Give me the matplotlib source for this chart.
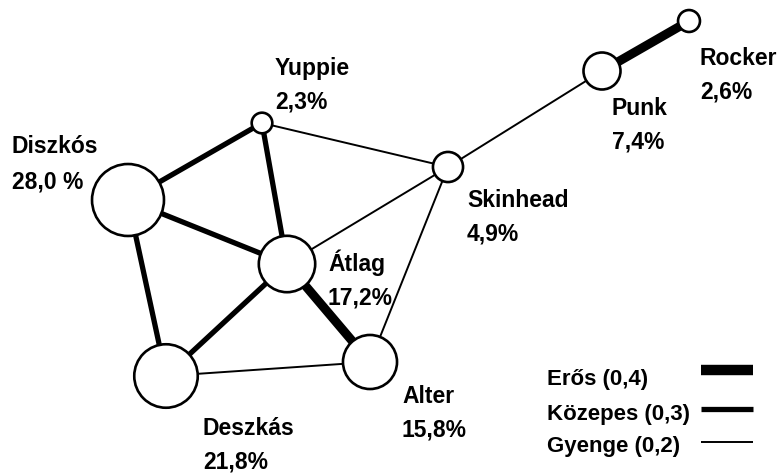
#!/usr/bin/env python3
"""Youth subculture network: node size = share, edge width = link strength."""

import matplotlib
matplotlib.use("Agg")
import matplotlib.pyplot as plt
from matplotlib.patches import Circle

plt.rcParams["font.family"] = ["Liberation Sans", "DejaVu Sans"]

# data
groups = ["Diszkós", "Yuppie", "Skinhead", "Átlag", "Deszkás", "Alter", "Punk", "Rocker"]
shares = [28.0, 2.3, 4.9, 17.2, 21.8, 15.8, 7.4, 2.6]
share_labels = ["28,0 %", "2,3%", "4,9%", "17,2%", "21,8%", "15,8%", "7,4%", "2,6%"]

edges = [
    ("Átlag", "Alter"), ("Punk", "Rocker"),
    ("Diszkós", "Yuppie"), ("Diszkós", "Átlag"), ("Diszkós", "Deszkás"),
    ("Yuppie", "Átlag"), ("Átlag", "Deszkás"),
    ("Yuppie", "Skinhead"), ("Átlag", "Skinhead"), ("Skinhead", "Alter"),
    ("Deszkás", "Alter"), ("Skinhead", "Punk"),
]
edge_weights = [0.4, 0.4, 0.3, 0.3, 0.3, 0.3, 0.3, 0.2, 0.2, 0.2, 0.2, 0.2]

legend_labels = ["Erős (0,4)", "Közepes (0,3)", "Gyenge (0,2)"]
legend_weights = [0.4, 0.3, 0.2]

# layout (pixel space, y down)
pos = {
    "Diszkós": (128, 200), "Yuppie": (262, 123), "Skinhead": (448, 167),
    "Átlag": (287, 264), "Deszkás": (166, 376), "Alter": (370, 362),
    "Punk": (602, 71), "Rocker": (689, 21),
}
# (x, name baseline, share baseline)
label_pos = {
    "Diszkós": (12, 153, 188), "Yuppie": (275, 75, 108), "Skinhead": (467, 207, 241),
    "Átlag": (328, 271, 305), "Deszkás": (203, 435, 469), "Alter": (402, 403, 437),
    "Punk": (612, 115, 148), "Rocker": (700, 65, 99),
}
width_for = {0.4: 6.5, 0.3: 3.8, 0.2: 1.4}
FS = 16.5

fig = plt.figure(figsize=(7.79, 4.75), dpi=100)
ax = fig.add_axes([0, 0, 1, 1])
ax.set_xlim(0, 779)
ax.set_ylim(475, 0)
ax.axis("off")

for (a, b), w in zip(edges, edge_weights):
    (x0, y0), (x1, y1) = pos[a], pos[b]
    ax.plot([x0, x1], [y0, y1], color="black", lw=width_for[w],
            solid_capstyle="butt", zorder=1)

for g, s, lab in zip(groups, shares, share_labels):
    r = 6.8 * s ** 0.5
    ax.add_patch(Circle(pos[g], r, facecolor="white", edgecolor="black",
                        lw=1.9, zorder=2))
    x, yn, ys = label_pos[g]
    ax.text(x, yn, g, fontsize=FS, fontweight="bold", va="baseline", ha="left")
    ax.text(x, ys, lab, fontsize=FS, fontweight="bold", va="baseline", ha="left")

for i, (lab, w) in enumerate(zip(legend_labels, legend_weights)):
    yb = [385, 420, 452][i]
    yl = [370, 409, 442][i]
    ax.text(547, yb, lab, fontsize=FS - 0.5, fontweight="bold", va="baseline", ha="left")
    ax.plot([701, 753], [yl, yl], color="black", lw=width_for[w] + (1 if w == 0.4 else 0),
            solid_capstyle="butt")

fig.savefig("out.png", dpi=100)
